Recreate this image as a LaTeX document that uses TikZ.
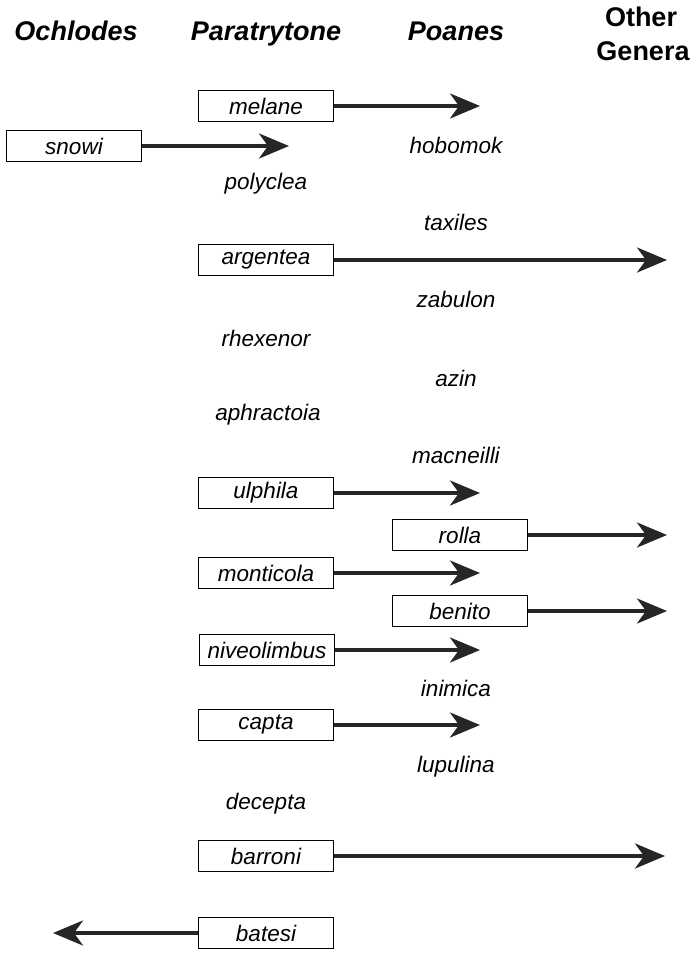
\documentclass[tikz,border=0pt]{standalone}
\usepackage{fontspec}
\setmainfont{Liberation Sans}
\usetikzlibrary{arrows.meta}
\begin{document}
\begin{tikzpicture}[x=1pt,y=-1pt,
  hdr/.style={font=\fontsize{27}{27}\selectfont\bfseries\itshape, anchor=base},
  hdrup/.style={font=\fontsize{27}{27}\selectfont\bfseries, anchor=base},
  sp/.style={font=\fontsize{22.5}{22.5}\selectfont\itshape, inner sep=0pt},
  spbox/.style={draw, line width=1.2pt, font=\fontsize{22.5}{22.5}\selectfont\itshape,
     minimum width=135pt, minimum height=31pt, inner sep=2pt},
  arr/.style={line width=3.8pt, -{Stealth[length=30pt,width=25pt,inset=9pt]}, color=black!85}
]
\useasboundingbox (0,0) rectangle (694,955);
% headers
\node[hdr] (hO) at (76,41) {Ochlodes};
\node[hdr] (hP) at (266,41) {Paratrytone};
\node[hdr] (hPo) at (456,41) {Poanes};
\node[hdrup] (hG1) at (641,27) {Other};
\node[hdrup] (hG2) at (643,61) {Genera};
% boxes and arrows
\node[spbox] (melane) at (266,106) {melane};
\coordinate (melaneE) at (480,106);
\draw[arr] (melane.east) -- (melaneE);
\node[spbox] (snowi) at (74,146) {snowi};
\coordinate (snowiE) at (289,146);
\draw[arr] (snowi.east) -- (snowiE);
\node[sp] (hobomok) at (456,145) {hobomok};
\node[sp] (polyclea) at (266,184) {polyclea};
\node[sp] (taxiles) at (456,222) {taxiles};
\node[spbox] (argentea) at (266,260) {argentea};
\coordinate (argenteaE) at (667,260);
\draw[arr] (argentea.east) -- (argenteaE);
\node[sp] (zabulon) at (456,299) {zabulon};
\node[sp] (rhexenor) at (266,338) {rhexenor};
\node[sp] (azin) at (456,378) {azin};
\node[sp] (aphractoia) at (268,415) {aphractoia};
\node[sp] (macneilli) at (456,455) {macneilli};
\node[spbox] (ulphila) at (266,493) {ulphila};
\coordinate (ulphilaE) at (480,493);
\draw[arr] (ulphila.east) -- (ulphilaE);
\node[spbox] (rolla) at (460,535) {rolla};
\coordinate (rollaE) at (667,535);
\draw[arr] (rolla.east) -- (rollaE);
\node[spbox] (monticola) at (266,573) {monticola};
\coordinate (monticolaE) at (480,573);
\draw[arr] (monticola.east) -- (monticolaE);
\node[spbox] (benito) at (460,611) {benito};
\coordinate (benitoE) at (667,611);
\draw[arr] (benito.east) -- (benitoE);
\node[spbox] (niveolimbus) at (267,650) {niveolimbus};
\coordinate (niveolimbusE) at (480,650);
\draw[arr] (niveolimbus.east) -- (niveolimbusE);
\node[sp] (inimica) at (456,688) {inimica};
\node[spbox] (capta) at (266,725) {capta};
\coordinate (captaE) at (480,725);
\draw[arr] (capta.east) -- (captaE);
\node[sp] (lupulina) at (456,767) {lupulina};
\node[sp] (decepta) at (266,804) {decepta};
\node[spbox] (barroni) at (266,856) {barroni};
\coordinate (barroniE) at (665,856);
\draw[arr] (barroni.east) -- (barroniE);
\node[spbox] (batesi) at (266,933) {batesi};
\coordinate (batesiE) at (53,933);
\draw[arr] (batesi.west) -- (batesiE);
\end{tikzpicture}
\end{document}
